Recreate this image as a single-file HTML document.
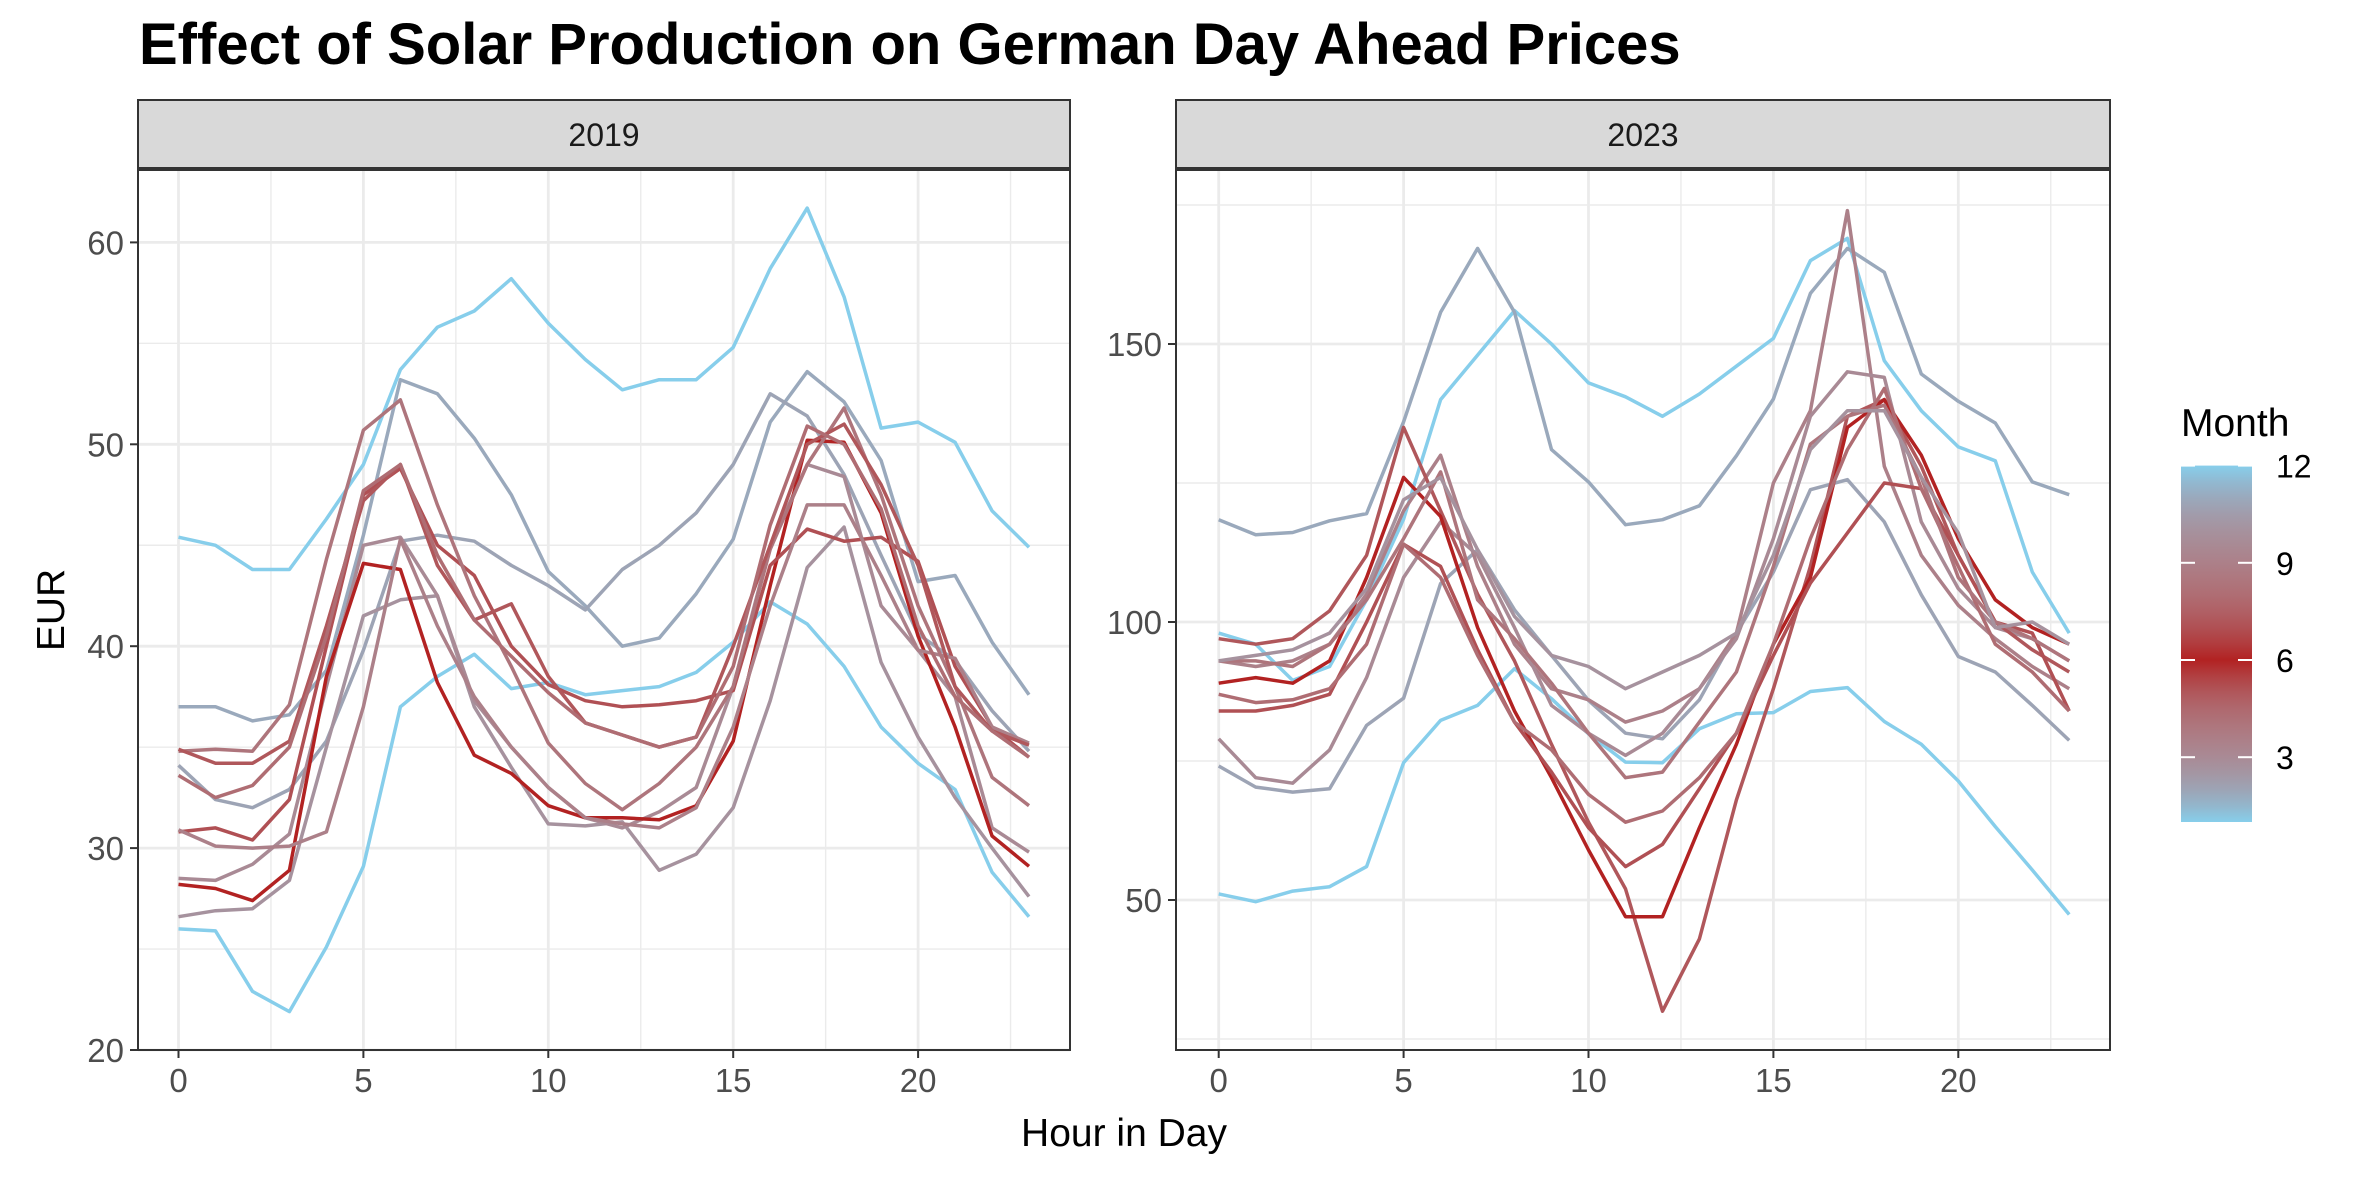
<!DOCTYPE html>
<html><head><meta charset="utf-8">
<style>
html,body{margin:0;padding:0;background:#fff;}
svg{display:block;font-family:"Liberation Sans",Arial,sans-serif;}
</style></head>
<body>
<svg id="chart" width="2362" height="1181" viewBox="0 0 2362 1181" xmlns="http://www.w3.org/2000/svg">
<text x="139" y="64" font-size="58" font-weight="bold" fill="#000">Effect of Solar Production on German Day Ahead Prices</text>
<text x="1124" y="1146" font-size="39" fill="#000" text-anchor="middle">Hour in Day</text>
<text transform="translate(64,610) rotate(-90)" font-size="39" fill="#000" text-anchor="middle">EUR</text>
<g id="panels"></g>
<g id="legend"></g>
</svg>
<script>
const hours = [0,1,2,3,4,5,6,7,8,9,10,11,12,13,14,15,16,17,18,19,20,21,22,23];
const xTicks = [0,5,10,15,20];
const yTicks2019 = [20,30,40,50,60];
const yTicks2023 = [50,100,150];
const legendTicks = [3,6,9,12];
const months2019 = [12,1,11,2,10,3,6,7,9,4,5,8];
const series2019 = [
[45.4,45.0,43.8,43.8,46.3,49,53.7,55.8,56.6,58.2,56,54.2,52.7,53.2,53.2,54.8,58.7,61.7,57.3,50.8,51.1,50.1,46.7,44.9],
[26,25.9,22.9,21.9,25.1,29.1,37.0,38.5,39.6,37.9,38.2,37.6,37.8,38.0,38.7,40.2,42.2,41.1,39.0,36.0,34.2,32.9,28.8,26.6],
[37,37,36.3,36.6,38.8,45.5,53.2,52.5,50.3,47.5,43.7,42.0,40.0,40.4,42.6,45.3,51.1,53.6,52.1,49.2,43.2,43.5,40.2,37.6],
[34.1,32.4,32.0,32.9,35.3,39.8,45.2,45.5,45.2,44.0,43.0,41.8,43.8,45.0,46.6,49.0,52.5,51.4,48.5,44.5,40.6,39.3,36.8,34.8],
[26.6,26.9,27.0,28.4,35,41.5,42.3,42.5,37,34,31.2,31.1,31.3,28.9,29.7,32.0,37.3,43.9,45.9,39.2,35.5,32.5,30,27.6],
[28.5,28.4,29.2,30.7,38,45,45.4,42.5,37.3,35,33,31.5,31.0,31.8,33,38,45,49,48.4,42,39.8,37.5,31,29.8],
[28.2,28.0,27.4,28.9,38.5,44.1,43.8,38.2,34.6,33.7,32.1,31.5,31.5,31.4,32.1,35.3,43,50.2,50.1,46.6,40.5,36,30.6,29.1],
[30.8,31.0,30.4,32.4,40,47.5,48.8,45,43.5,40,38.1,37.3,37.0,37.1,37.3,37.8,44,45.8,45.2,45.4,44.2,39,36.0,34.5],
[30.9,30.1,30.0,30.1,30.8,37,45.3,41,37.5,35,33,31.5,31.2,31.0,32,36,42,47,47,43.5,39.8,39.4,36,35.2],
[34.8,34.9,34.8,37.1,44.3,50.7,52.2,47,42.5,39,35.2,33.2,31.9,33.2,35,38,44.8,49,51.8,47.5,42,38,33.5,32.1],
[34.9,34.2,34.2,35.3,41,47.2,49,44,41.3,42.1,38.5,36.2,35.6,35,35.5,40,45,50,51,48,44,38,35.8,35.1],
[33.6,32.5,33.1,35.0,40.5,47.7,49.0,44.5,41.3,39.5,37.7,36.2,35.6,35.0,35.5,39,46,50.9,50,46.8,41,37.5,35.8,34.5]
];
const months2023 = [1,12,11,2,9,3,5,6,7,8,4,10];
const series2023 = [
[98,96,89.5,92,104,118.5,140,148,156,150,143,140.5,137,141,146,151,165,169,147,138,131.5,129,109,98],
[51.1,49.7,51.6,52.4,56,74.7,82.3,85,91.6,86.2,79.9,74.8,74.7,80.8,83.5,83.7,87.5,88.2,82.1,78,71.4,63.2,55.4,47.4],
[118.4,115.7,116.1,118.2,119.5,136,155.7,167.2,155.7,131,125.2,117.5,118.4,120.9,129.9,140.1,159.1,167.2,162.9,144.6,139.7,135.8,125.2,122.9],
[74.1,70.3,69.4,70,81.4,86.3,106.9,113,102.2,94,85.9,80,79,86,98,109,123.8,125.6,118,104.9,93.8,91,85,78.7],
[93,92,93,96,105,120,130,110,96,88,86,82,84,88,98,125,138,174,128,112,103,97,92,88],
[79,72,71,77,90,108,118,112,99,85,80,76,80,88,97,115,137,145,144,118,106,99,97,93],
[97,96,97,102,112,135,120,105,93,78,64,52,30,43,68,88,110,137,140,128,112,100,95,91],
[89,90,89,93,108,126,119,99,84,72,59,47,47,63,78,96,108,135,140,130,115,104,99,96],
[84,84,85,87,100,114,110,95,82,73,63,56,60,70,80,94,107,116,125,124,112,100,98,84],
[87,85.5,86,88,96,114,108,94,82,77,69,64,66,72,80,96,115,131,142,124,110,96,91,84],
[93,93,92,96,104,115,127,104,97,89,80,72,73,82,91,110,132,137,139,126,108,100,97,93],
[93,94,95,98,106,122,126,113,101,94,92,88,91,94,98,112,131,138,138,126,116,99,100,96]
];

const NS="http://www.w3.org/2000/svg";
function mk(tag,attrs,parent){const e=document.createElementNS(NS,tag);for(const k in attrs)e.setAttribute(k,attrs[k]);if(parent)parent.appendChild(e);return e;}
const SKY=[135,206,235], RED=[178,34,34];
function monthColor(m){
  const t = m<=6 ? (m-1)/5 : (12-m)/6;
  const gray=[195,140,140];
  const w=4*t*(1-t)*0.4;
  const c=[0,1,2].map(i=>Math.round((SKY[i]*(1-t)+RED[i]*t)*(1-w)+gray[i]*w));
  return `rgb(${c[0]},${c[1]},${c[2]})`;
}
const panelsG=document.getElementById('panels');
function drawPanel(cfg){
  const g=mk('g',{},panelsG);
  
  
  const {left,right,top,bottom}=cfg;
  const xs=h=>cfg.x0+h*cfg.dx;
  const ys=v=>cfg.yRef-(v-cfg.vRef)*cfg.py;
  const strip=mk('rect',{x:left,y:100,width:right-left,height:68,fill:'#d9d9d9',stroke:'#333','stroke-width':2},g);
  
  
  const st=mk('text',{x:(left+right)/2,y:146,'font-size':32,fill:'#1a1a1a','text-anchor':'middle'},g);
  st.textContent=cfg.label;
  
  
  const grid=mk('g',{},g);
  
  
  const minorStep=cfg.yStep/2;
  for(let v=cfg.yTicks[0]-minorStep; v<=cfg.yTicks[cfg.yTicks.length-1]+minorStep*2; v+=minorStep){
    const y=ys(v); if(y<top||y>bottom)continue;
    const major=cfg.yTicks.includes(v);
    mk('line',{x1:left,x2:right,y1:y,y2:y,stroke:'#ebebeb','stroke-width':major?2.8:1.4},grid);
  }
  for(let h=-2.5; h<=25; h+=2.5){
    const x=xs(h); if(x<left||x>right)continue;
    const major=xTicks.includes(h);
    mk('line',{x1:x,x2:x,y1:top,y2:bottom,stroke:'#ebebeb','stroke-width':major?2.8:1.4},grid);
  }
  cfg.series.forEach((s,i)=>{
    const pts=s.map((v,j)=>xs(hours[j]).toFixed(1)+','+ys(v).toFixed(1)).join(' ');
    const pl=mk('polyline',{points:pts,fill:'none',stroke:monthColor(cfg.months[i]),'stroke-width':3.5,'stroke-linejoin':'round'},g);
    
    
  });
  const border=mk('rect',{x:left,y:top,width:right-left,height:bottom-top,fill:'none',stroke:'#333','stroke-width':2},g);
  
  
  cfg.yTicks.forEach(v=>{
    const y=ys(v);
    mk('line',{x1:left-8,x2:left,y1:y,y2:y,stroke:'#333','stroke-width':2},g);
    const t=mk('text',{x:left-14,y:y+12,'font-size':33,fill:'#4d4d4d','text-anchor':'end'},g);
    t.textContent=v;
    
    
  });
  xTicks.forEach(h=>{
    const x=xs(h);
    mk('line',{x1:x,x2:x,y1:bottom,y2:bottom+8,stroke:'#333','stroke-width':2},g);
    const t=mk('text',{x:x,y:bottom+42,'font-size':33,fill:'#4d4d4d','text-anchor':'middle'},g);
    t.textContent=h;
    
    
  });
}
drawPanel({label:'2019',left:138,right:1070,top:170,bottom:1050,x0:178.5,dx:36.98,yRef:1050,vRef:20,py:20.19,yTicks:yTicks2019,yStep:10,series:series2019,months:months2019});
drawPanel({label:'2023',left:1176,right:2110,top:170,bottom:1050,x0:1218.7,dx:36.98,yRef:900,vRef:50,py:5.56,yTicks:yTicks2023,yStep:50,series:series2023,months:months2023});

const lg=document.getElementById('legend');
const lt=mk('text',{x:2181,y:436,'font-size':39,fill:'#000'},lg);
lt.textContent='Month';


const defs=mk('defs',{},lg);
const grad=mk('linearGradient',{id:'mg',x1:0,y1:0,x2:0,y2:1},defs);
const ly=m=>822-(m-1)*32.4;
const top12=ly(12), bot1=ly(1);
for(let m=12;m>=1;m-=0.5){
  mk('stop',{offset:((ly(m)-top12)/(bot1-top12)).toFixed(4),'stop-color':monthColor(m)},grad);
}
const bar=mk('rect',{x:2181,y:top12,width:71,height:bot1-top12,fill:'url(#mg)'},lg);


legendTicks.forEach(m=>{
  const y=ly(m);
  mk('line',{x1:2181,x2:2195,y1:y,y2:y,stroke:'#fff','stroke-width':2},lg);
  mk('line',{x1:2238,x2:2252,y1:y,y2:y,stroke:'#fff','stroke-width':2},lg);
  const t=mk('text',{x:2276,y:y+12,'font-size':32,fill:'#000'},lg);
  t.textContent=m;
  
  
});
</script>
</body></html>
